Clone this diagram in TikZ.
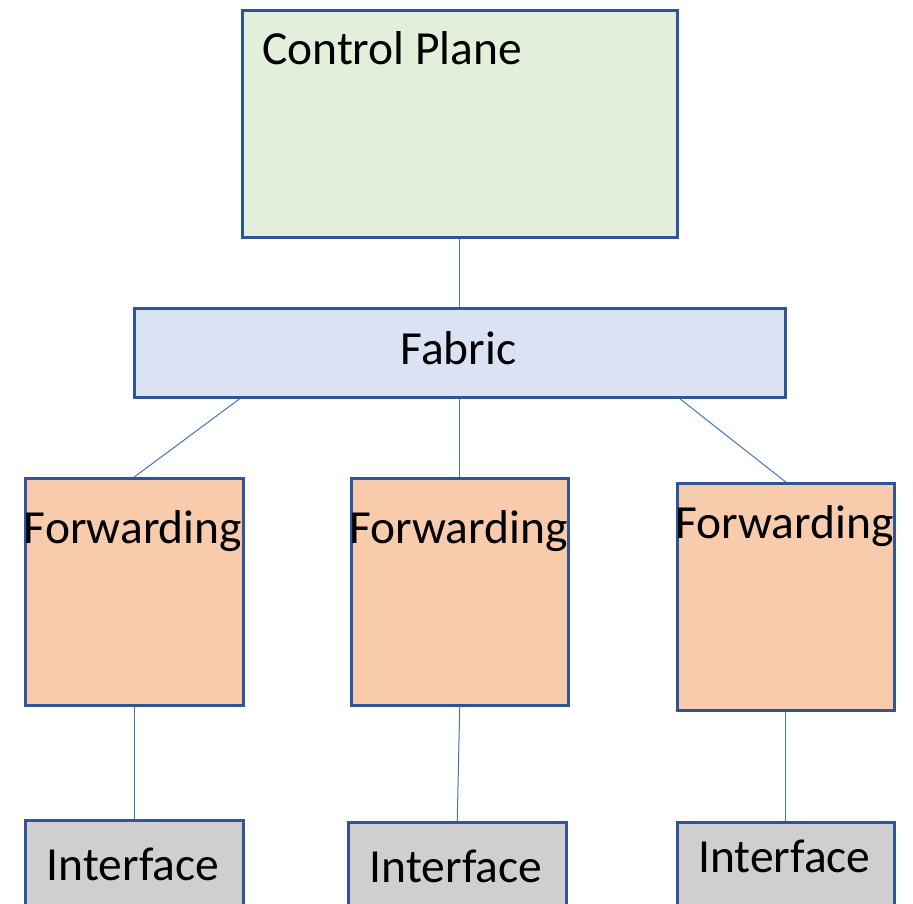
\documentclass[tikz,border=0pt]{standalone}
\usepackage{fontspec}
\setmainfont{Carlito}
\definecolor{boxline}{HTML}{2F5597}
\definecolor{linkblue}{HTML}{4472C4}
\definecolor{cpfill}{HTML}{E2EFDA}
\definecolor{fabfill}{HTML}{DAE3F3}
\definecolor{fwfill}{HTML}{F8CBAD}
\definecolor{iffill}{HTML}{D0CECE}
\begin{document}
\begin{tikzpicture}[x=1pt,y=-1pt,
  box/.style={draw=boxline, line width=2.5pt, inner sep=0pt, anchor=north west},
  txt/.style={font=\fontsize{47.5}{56}\selectfont, inner sep=0pt, text=black},
  link/.style={draw=linkblue, line width=1pt}]
\useasboundingbox (0,0) rectangle (913,903);
\clip (0,0) rectangle (913,903);
% boxes
\node[box, fill=cpfill, minimum width=435pt, minimum height=227pt] (cp) at (241,9) {};
\node[box, fill=fabfill, minimum width=651pt, minimum height=89pt] (fab) at (133,307) {};
\node[box, fill=fwfill, minimum width=218pt, minimum height=227pt] (fw1) at (24,477) {};
\node[box, fill=fwfill, minimum width=217pt, minimum height=227pt] (fw2) at (350,477) {};
\node[box, fill=fwfill, minimum width=217pt, minimum height=227pt] (fw3) at (676,482) {};
\node[box, fill=iffill, minimum width=218pt, minimum height=100pt] (if1) at (24,819) {};
\node[box, fill=iffill, minimum width=218pt, minimum height=100pt] (if2) at (347,821) {};
\node[box, fill=iffill, minimum width=217pt, minimum height=100pt] (if3) at (676,821) {};
% texts
\node[txt, anchor=base west] (cpt) at (262,64) {Control Plane};
\node[txt, anchor=base] (fabt) at (458.5,364) {Fabric};
\node[txt, anchor=base] (fw1t) at (133,543) {Forwarding};
\node[txt, anchor=base] (fw2t) at (458.5,543) {Forwarding};
\node[txt, anchor=base] (fw3t) at (784.5,538) {Forwarding};
\node[txt, anchor=base] (if1t) at (133,880) {Interface};
\node[txt, anchor=base] (if2t) at (456,882) {Interface};
\node[txt, anchor=base] (if3t) at (784.5,872) {Interface};
% connectors
\draw[link] (cp.south) -- (fab.north);
\draw[link] ([xshift=107pt]fab.south west) -- (fw1.north);
\draw[link] (fab.south) -- (fw2.north);
\draw[link] ([xshift=-107pt]fab.south east) -- (fw3.north);
\draw[link] (fw1.south) -- (if1.north);
\draw[link] (fw2.south) -- (if2.north);
\draw[link] (fw3.south) -- (if3.north);
\end{tikzpicture}
\end{document}
